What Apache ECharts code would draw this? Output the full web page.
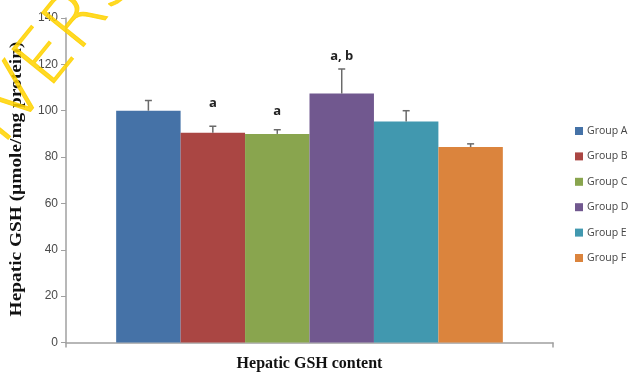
<!DOCTYPE html>
<html>
<head>
<meta charset="utf-8">
<script src="https://cdn.jsdelivr.net/npm/echarts@6/dist/echarts.min.js"></script>
<style>
  html, body { margin: 0; padding: 0; background: #fff; }
  #chart { width: 633px; height: 374px; }
</style>
</head>
<body>
<div id="chart"></div>
<script>
// Hepatic GSH content per treatment group (mean and upper SD)
const categories = ['Hepatic GSH content'];
const groups = ['Group A', 'Group B', 'Group C', 'Group D', 'Group E', 'Group F'];
const meanValues = [100, 90.5, 90.0, 107.4, 95.3, 84.3];
const sdValues = [4.4, 2.8, 1.8, 10.6, 4.7, 1.4];
const sigLabels = ['', 'a', 'a', 'a, b', '', ''];
const yTicks = [0, 20, 40, 60, 80, 100, 120, 140];

const colors = ['#4572A7', '#AA4643', '#89A54E', '#71588F', '#4198AF', '#DB843D'];
const sigOffsets = [0, 23, 18, 13, 0, 0];
const CATEGORY_GAP = 0.206;

const chart = echarts.init(document.getElementById('chart'), null, { renderer: 'canvas' });

const barSeries = groups.map((name, i) => ({
  name,
  type: 'bar',
  data: [meanValues[i]],
  barGap: '0%',
  barCategoryGap: (CATEGORY_GAP * 100) + '%',
  itemStyle: { color: colors[i] },
  emphasis: { disabled: true },
  z: 2
}));

// Upper error bars and significance letters, placed over each bar
const errorSeries = {
  type: 'custom',
  name: 'error',
  data: [[0]],
  z: 3,
  silent: true,
  renderItem(params, api) {
    const bandWidth = api.size([1, 0])[0];
    const barWidth = bandWidth * (1 - CATEGORY_GAP) / groups.length;
    const children = [];
    groups.forEach((g, i) => {
      const top = api.coord([0, meanValues[i]]);
      const err = api.coord([0, meanValues[i] + sdValues[i]]);
      const x = top[0] + (i - (groups.length - 1) / 2) * barWidth;
      children.push({
        type: 'line',
        shape: { x1: x, y1: top[1], x2: x, y2: err[1] },
        style: { stroke: '#6a6a6a', lineWidth: 1.5 }
      });
      children.push({
        type: 'line',
        shape: { x1: x - 3.5, y1: err[1], x2: x + 3.5, y2: err[1] },
        style: { stroke: '#6a6a6a', lineWidth: 1.5 }
      });
      if (sigLabels[i]) {
        children.push({
          type: 'text',
          style: {
            x: x, y: err[1] - sigOffsets[i],
            text: sigLabels[i],
            fill: '#222',
            font: 'bold 13px "Open Sans", "Liberation Sans", sans-serif',
            align: 'center', verticalAlign: 'middle'
          }
        });
      }
    });
    return { type: 'group', children };
  }
};

const option = {
  backgroundColor: '#fff',
  animation: false,
  grid: { left: 66, right: 80, top: 18, bottom: 31.5 },
  legend: {
    orient: 'vertical',
    left: 575,
    top: 124,
    padding: 0,
    data: groups,
    icon: 'rect',
    itemWidth: 8,
    itemHeight: 8,
    itemGap: 11.4,
    selectedMode: false,
    textStyle: {
      fontFamily: '"Open Sans", "Liberation Sans", sans-serif',
      fontSize: 10.5,
      lineHeight: 14,
      color: '#444',
      padding: [0, 0, 0, -1]
    }
  },
  xAxis: {
    type: 'category',
    data: categories,
    axisLine: { lineStyle: { color: '#a0a0a0', width: 1.5 } },
    axisTick: { show: true, length: 5, lineStyle: { color: '#a0a0a0', width: 1.5 } },
    axisLabel: {
      margin: 13,
      fontFamily: '"Liberation Serif", "Times New Roman", serif',
      fontWeight: 'bold',
      fontSize: 16,
      color: '#111'
    }
  },
  yAxis: {
    type: 'value',
    min: yTicks[0],
    max: yTicks[yTicks.length - 1],
    interval: yTicks[1] - yTicks[0],
    splitLine: { show: false },
    axisLine: { show: true, lineStyle: { color: '#a0a0a0', width: 1.5 } },
    axisTick: { show: true, length: 5, lineStyle: { color: '#a0a0a0', width: 1 } },
    axisLabel: {
      margin: 8,
      fontFamily: '"Liberation Sans", Arial, sans-serif',
      fontSize: 12,
      color: '#4a4a4a'
    }
  },
  graphic: [
    {
      type: 'text',
      rotation: Math.PI / 2,
      x: 17, y: 179,
      scaleX: 1.21,
      style: {
        text: 'Hepatic GSH (µmole/mg protein)',
        font: 'bold 16px "Liberation Serif", "Times New Roman", serif',
        fill: '#111',
        align: 'center',
        verticalAlign: 'middle'
      },
      z: 10
    },
    {
      type: 'text',
      x: -110, y: 196,
      rotation: 51 * Math.PI / 180,
      style: {
        text: 'UNIVERSITAS',
        font: '200 74px "DejaVu Sans", sans-serif',
        fill: 'rgba(255, 210, 0, 0.85)',
        stroke: 'rgba(255, 210, 0, 0.85)',
        lineWidth: 1,
        align: 'left',
        verticalAlign: 'alphabetic'
      },
      z: 20,
      silent: true
    }
  ],
  series: [...barSeries, errorSeries]
};

chart.setOption(option);
</script>
</body>
</html>
